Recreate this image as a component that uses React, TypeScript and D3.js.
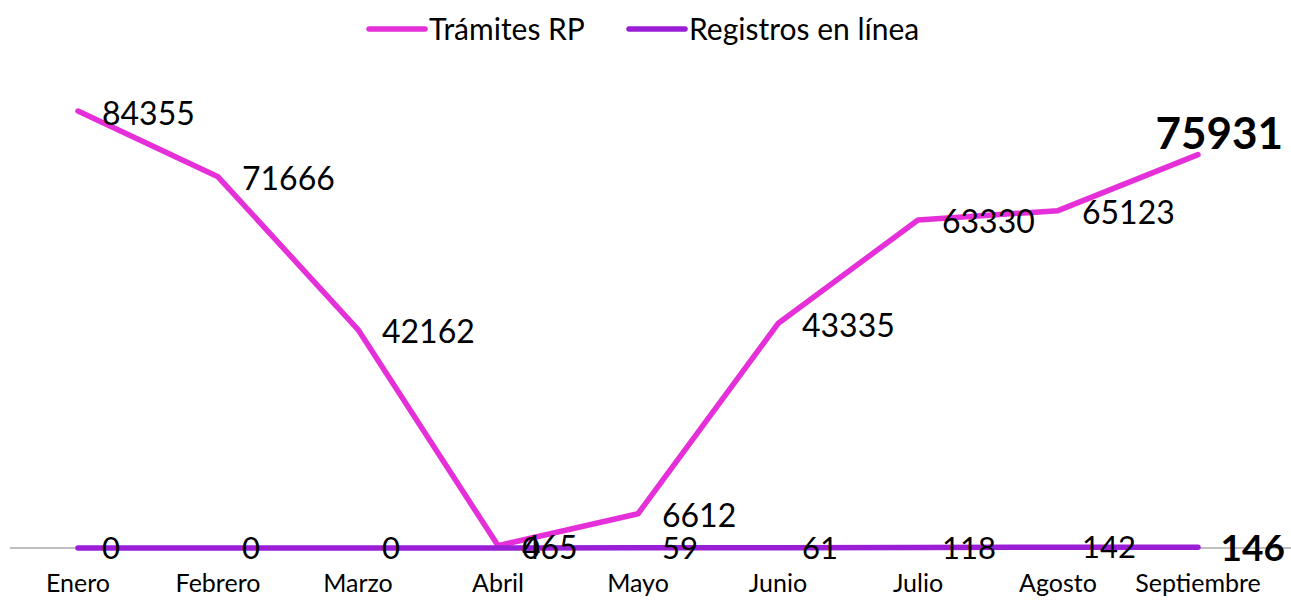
import React, { useEffect, useRef } from 'react';
import * as d3 from 'd3';

const months = ['Enero', 'Febrero', 'Marzo', 'Abril', 'Mayo', 'Junio', 'Julio', 'Agosto', 'Septiembre'];
const tramites = [84355, 71666, 42162, 465, 6612, 43335, 63330, 65123, 75931];
const registros = [0, 0, 0, 0, 59, 61, 118, 142, 146];
const seriesNames = ['Trámites RP', 'Registros en línea'];
const seriesColors = ['#E52FD8', '#9A1ED6'];

const width = 1291;
const height = 600;
const font = "'Gill Sans', 'Gill Sans MT', Lato, 'Open Sans', sans-serif";

const App = () => {
    const ref = useRef<SVGSVGElement>(null);

    useEffect(() => {
        const svg = d3.select(ref.current);
        svg.selectAll('*').remove();

        const x = d3.scaleBand().domain(months).range([8, 1268]);
        const cx = (m: string) => (x(m) as number) + x.bandwidth() / 2;
        const y = d3.scaleLinear().domain([0, 100000]).range([548, 30]);

        // axis line
        svg.append('line')
            .attr('x1', 10).attr('x2', 1291)
            .attr('y1', y(0)).attr('y2', y(0))
            .attr('stroke', '#ababab').attr('stroke-width', 1.5);

        // category labels
        svg.append('g').selectAll('text')
            .data(months)
            .join('text')
            .attr('x', d => cx(d))
            .attr('y', 592)
            .attr('text-anchor', 'middle')
            .style('font-family', font)
            .style('font-size', '25px')
            .attr('fill', '#000')
            .text(d => d);

        const line = d3.line<number>()
            .x((d, i) => cx(months[i]))
            .y(d => y(d));

        [tramites, registros].forEach((vals, s) => {
            svg.append('path')
                .datum(vals)
                .attr('d', line)
                .attr('fill', 'none')
                .attr('stroke', seriesColors[s])
                .attr('stroke-width', 5.5)
                .attr('stroke-linecap', 'round')
                .attr('stroke-linejoin', 'round');
        });

        const last = months.length - 1;

        // registros labels
        svg.append('g').selectAll('text')
            .data(registros)
            .join('text')
            .attr('x', (d, i) => i === last ? 1285 : cx(months[i]) + 24)
            .attr('y', d => y(d))
            .attr('dy', '0.36em')
            .attr('text-anchor', (d, i) => i === last ? 'end' : 'start')
            .style('font-family', font)
            .style('font-size', (d, i) => i === last ? '37px' : '31px')
            .style('font-weight', (d, i) => i === last ? 'bold' : 'normal')
            .attr('fill', '#000')
            .text(d => d);

        // tramites labels
        svg.append('g').selectAll('text')
            .data(tramites)
            .join('text')
            .attr('x', (d, i) => i === last ? 1283 : cx(months[i]) + 24)
            .attr('y', (d, i) => i === last ? y(d) - 22 : y(d) + 2)
            .attr('dy', '0.36em')
            .attr('text-anchor', (d, i) => i === last ? 'end' : 'start')
            .style('font-family', font)
            .style('font-size', (d, i) => i === last ? '44px' : '32px')
            .style('font-weight', (d, i) => i === last ? 'bold' : 'normal')
            .attr('fill', '#000')
            .text(d => d);

        // legend
        const legendX = [369, 629];
        const lg = svg.append('g');
        seriesNames.forEach((name, i) => {
            lg.append('line')
                .attr('x1', legendX[i]).attr('x2', legendX[i] + 56)
                .attr('y1', 29).attr('y2', 29)
                .attr('stroke', seriesColors[i])
                .attr('stroke-width', 5.5)
                .attr('stroke-linecap', 'round');
            lg.append('text')
                .attr('x', legendX[i] + 60)
                .attr('y', 29)
                .attr('dy', '0.36em')
                .style('font-family', font)
                .style('font-size', '30px')
                .attr('fill', '#000')
                .text(name);
        });
    }, []);

    return (
        <svg ref={ref} width={width} height={height} style={{ position: 'absolute', left: 0, top: 0 }}></svg>
    );
};

export default App;
